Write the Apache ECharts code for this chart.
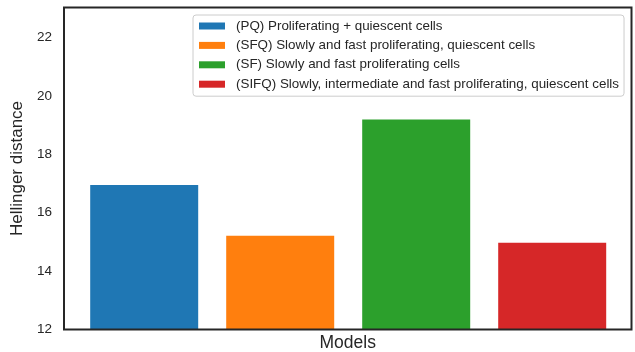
<!DOCTYPE html>
<html>
<head>
<meta charset="utf-8">
<script src="https://cdn.jsdelivr.net/npm/echarts@6/dist/echarts.min.js"></script>
<style>
  html, body { margin: 0; padding: 0; background: #fff; }
  #chart { width: 635px; height: 352px; }
</style>
</head>
<body>
<div id="chart"></div>
<script>
// Model codes on the x axis (one bar per model)
const models = ['PQ', 'SFQ', 'SF', 'SIFQ'];
// Legend descriptions for each model
const modelNames = [
  '(PQ) Proliferating + quiescent cells',
  '(SFQ) Slowly and fast proliferating, quiescent cells',
  '(SF) Slowly and fast proliferating cells',
  '(SIFQ) Slowly, intermediate and fast proliferating, quiescent cells'
];
// Hellinger distance per model
const distances = [16.95, 15.21, 19.19, 14.97];
// Y axis range and tick step
const yMin = 12;
const yMax = 23.03;
const yStep = 2;

const colors = ['#1f77b4', '#ff7f0e', '#2ca02c', '#d62728'];
const ink = '#262626';
const font = '"Liberation Sans", Arial, sans-serif';

const chart = echarts.init(document.getElementById('chart'), null, { renderer: 'canvas' });

const series = models.map((m, i) => ({
  name: modelNames[i],
  type: 'bar',
  xAxisIndex: 1,
  yAxisIndex: 1,
  barWidth: 108,
  barGap: '-100%',
  z: -1,
  itemStyle: { color: colors[i] },
  data: models.map((_, j) => (j === i ? distances[i] : '-'))
}));

chart.setOption({
  animation: false,
  textStyle: { fontFamily: font },
  color: colors,
  grid: [
    // outer frame with the y scale
    { left: 64, right: 3.5, top: 7.5, bottom: 22.5, show: true, containLabel: false,
      outerBoundsMode: 'none',
      borderColor: ink, borderWidth: 2, backgroundColor: 'transparent' },
    // bar layout area
    { left: 76.2, right: 14.8, top: 7.5, bottom: 22.5, containLabel: false,
      outerBoundsMode: 'none' }
  ],
  xAxis: [
    { type: 'value', gridIndex: 0, name: 'Models', nameLocation: 'middle', nameGap: 5,
      nameTextStyle: { color: ink, fontSize: 17.5, fontFamily: font, verticalAlign: 'top' },
      axisLine: { show: false }, axisTick: { show: false },
      axisLabel: { show: false }, splitLine: { show: false } },
    { type: 'category', gridIndex: 1, data: models, boundaryGap: true,
      axisLine: { show: false }, axisTick: { show: false },
      axisLabel: { show: false }, splitLine: { show: false } }
  ],
  yAxis: [
    { type: 'value', gridIndex: 0, min: yMin, max: yMax, interval: yStep,
      name: 'Hellinger distance', nameLocation: 'middle', nameRotate: 90, nameGap: 35,
      nameTextStyle: { color: ink, fontSize: 17, fontFamily: font },
      axisLine: { show: false }, axisTick: { show: false }, splitLine: { show: false },
      axisLabel: { color: ink, fontSize: 13.5, margin: 12, fontFamily: font,
                   showMaxLabel: false } },
    { type: 'value', gridIndex: 1, min: yMin, max: yMax, interval: yStep, show: false }
  ],
  legend: {
    orient: 'vertical',
    left: 193, top: 15,
    padding: [4, 5, 5, 6],
    itemWidth: 26, itemHeight: 7, itemGap: 5.4,
    icon: 'rect',
    borderColor: '#cccccc', borderWidth: 1, borderRadius: 3,
    backgroundColor: 'rgba(255,255,255,0.8)',
    textStyle: { color: ink, fontSize: 13.4, lineHeight: 14, fontFamily: font,
                 padding: [0, 0, 0, 6] },
    data: modelNames
  },
  series: series
});
</script>
</body>
</html>
